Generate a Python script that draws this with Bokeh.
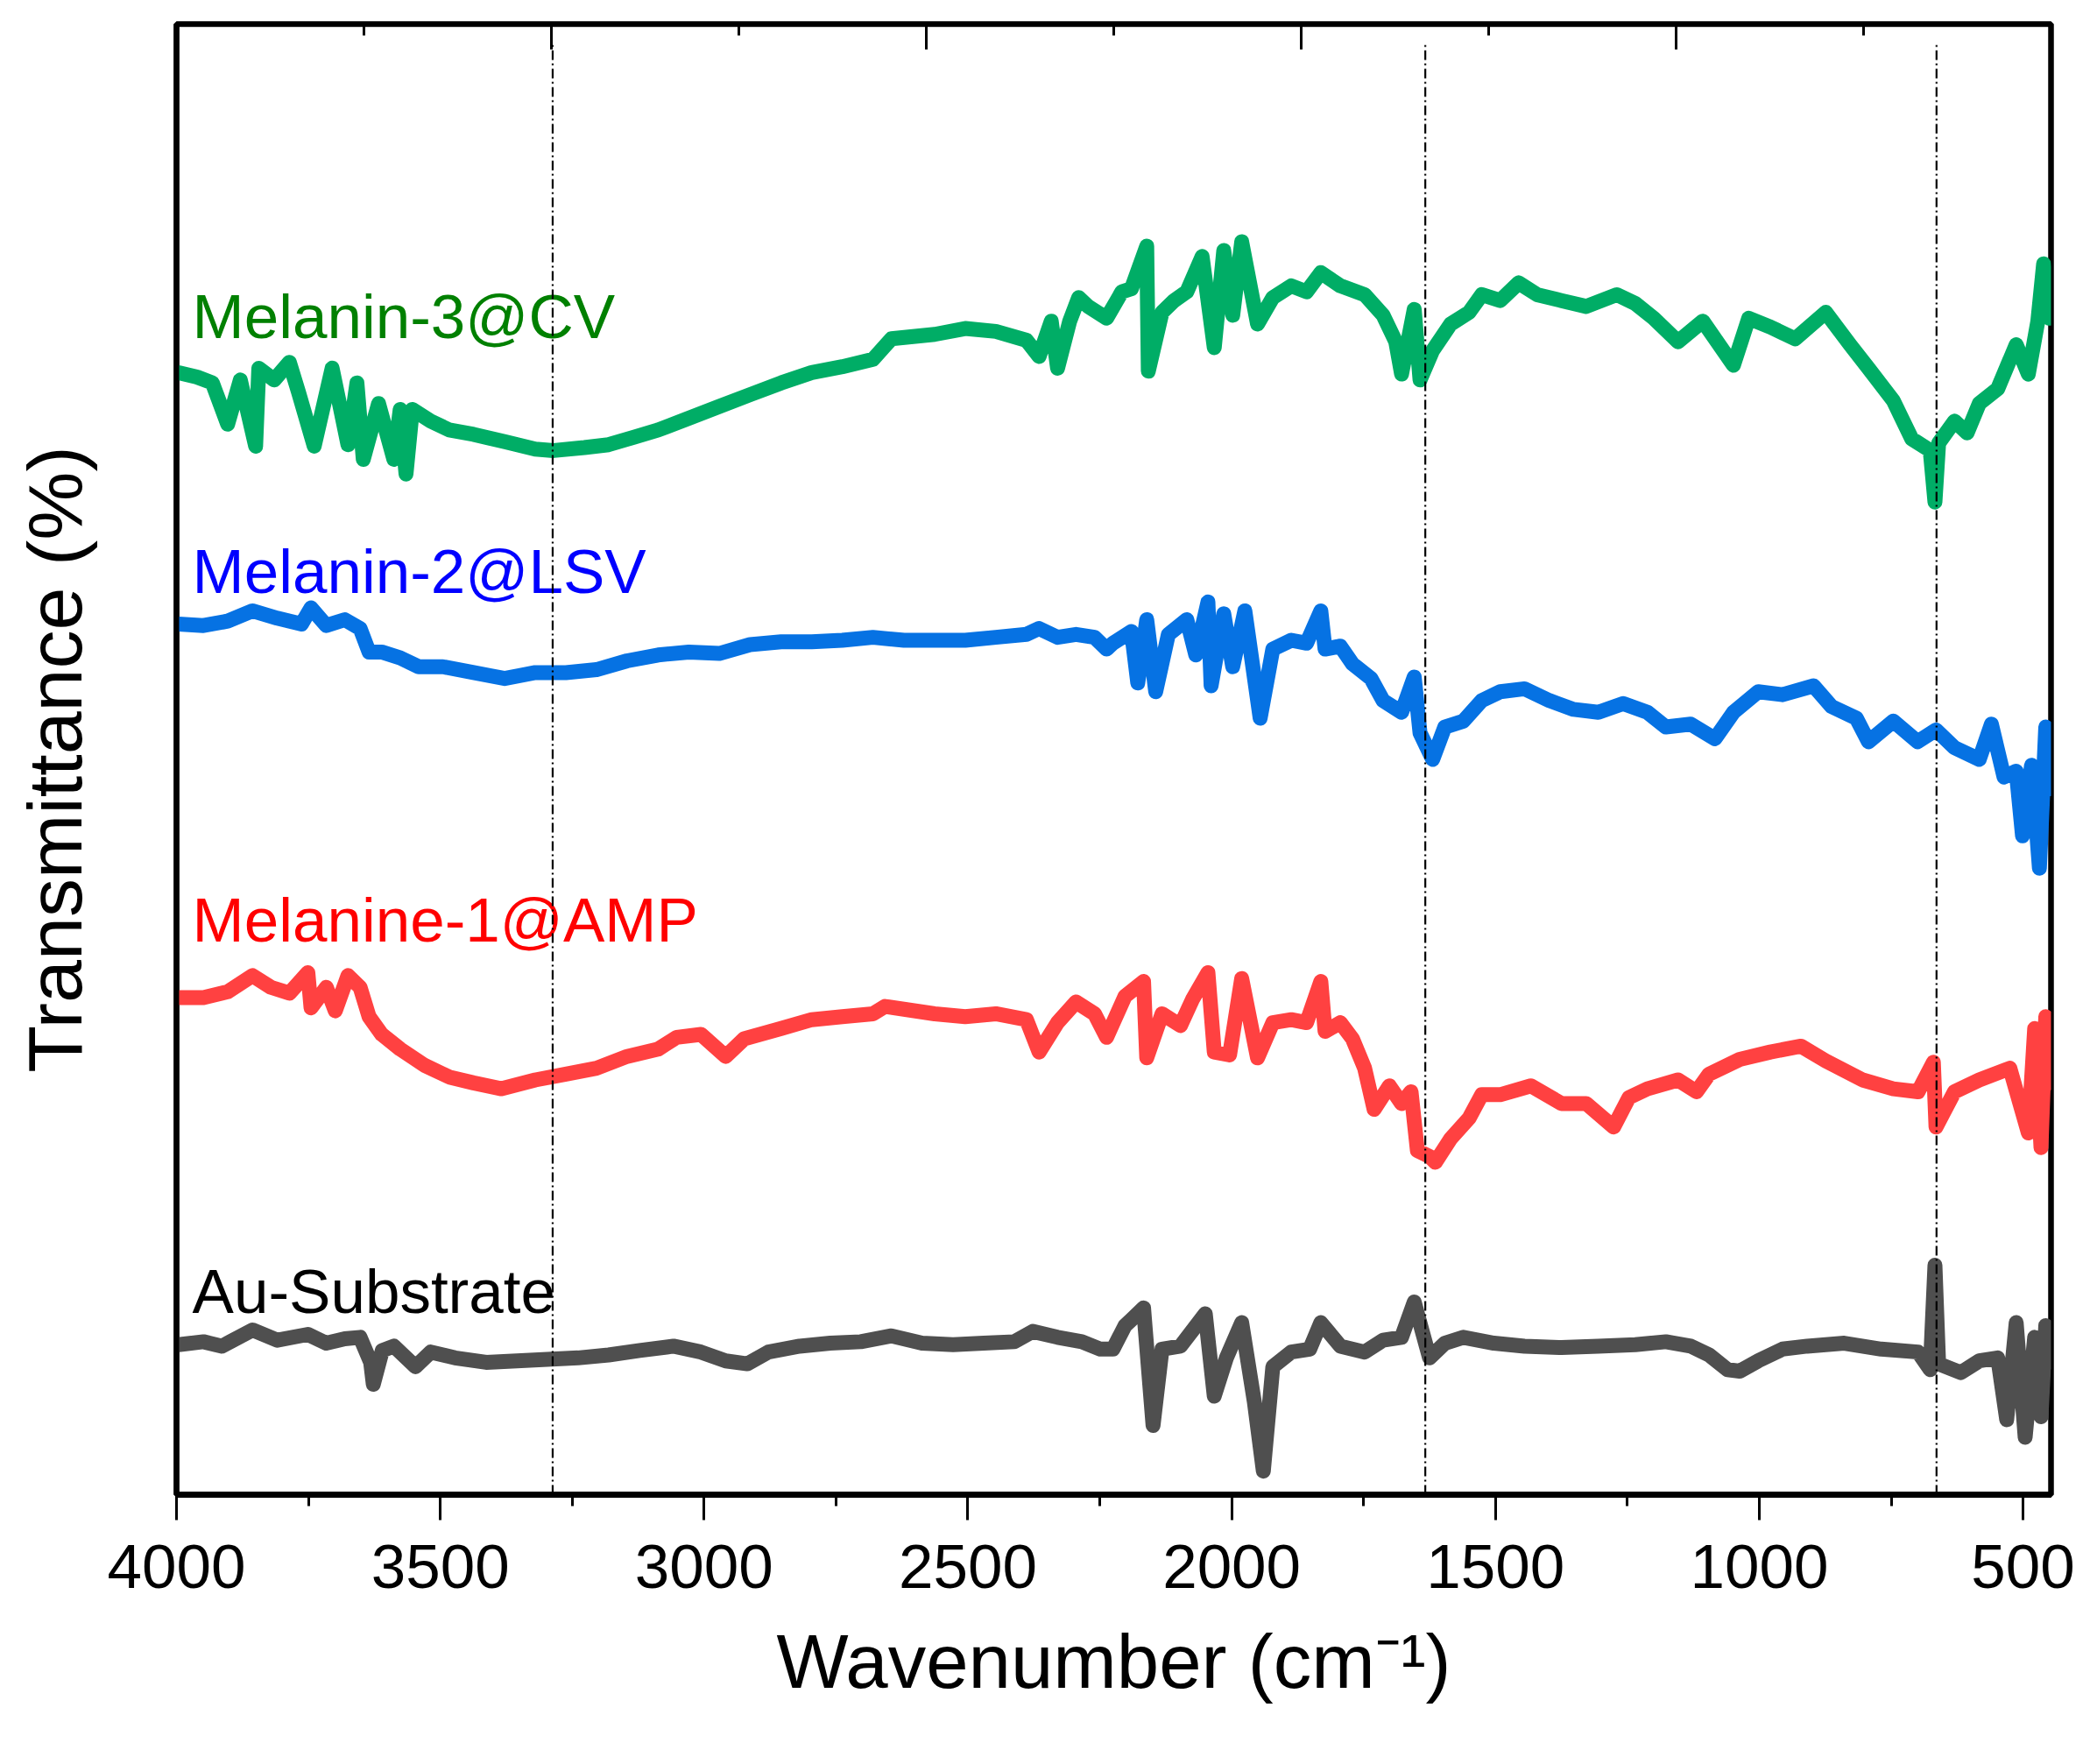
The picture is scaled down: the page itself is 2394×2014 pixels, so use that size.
from bokeh.core.properties import value
from bokeh.embed import file_html
from bokeh.models import (ColumnDataSource, FixedTicker, LinearAxis, Range1d,
                          SingleIntervalTicker)
from bokeh.plotting import figure
from bokeh.resources import INLINE

# FTIR spectra, offset transmittance (arbitrary units)
wn_cv = [3996, 3961, 3932, 3903, 3879, 3850, 3844, 3815, 3786, 3769, 3739, 3705,
         3675, 3658, 3646, 3617, 3588, 3576, 3565, 3553, 3518, 3483, 3437, 3378,
         3320, 3285, 3227, 3181, 3134, 3087, 3029, 2971, 2913, 2854, 2796, 2738,
         2680, 2645, 2563, 2505, 2447, 2389, 2365, 2342, 2330, 2307, 2290, 2272,
         2237, 2208, 2190, 2161, 2158, 2132, 2109, 2085, 2056, 2033, 2015, 1998,
         1981, 1951, 1922, 1887, 1858, 1831, 1794, 1748, 1713, 1689, 1678, 1654,
         1643, 1619, 1585, 1550, 1526, 1491, 1456, 1421, 1375, 1328, 1270, 1235,
         1200, 1154, 1107, 1049, 1020, 979, 932, 874, 828, 793, 746, 711, 676,
         667, 660, 630, 606, 583, 548, 513, 490, 472, 461, 450]
t_cv = [76.3, 76.0, 75.6, 72.8, 75.8, 71.3, 76.6, 75.8, 77.0, 75.0, 71.3, 76.6,
        71.4, 75.6, 70.4, 74.2, 70.4, 73.8, 69.4, 73.8, 73.0, 72.4, 72.1, 71.6,
        71.1, 71.0, 71.2, 71.4, 71.9, 72.4, 73.2, 74.0, 74.8, 75.6, 76.3, 76.7,
        77.2, 78.6, 78.9, 79.3, 79.1, 78.5, 77.4, 79.8, 76.6, 79.8, 81.4, 80.8,
        80.0, 81.8, 82.0, 84.9, 76.4, 80.4, 81.2, 81.8, 84.2, 78.0, 84.6, 80.2,
        85.2, 79.6, 81.4, 82.2, 81.8, 83.1, 82.2, 81.6, 80.2, 78.4, 76.2, 80.6,
        75.8, 77.8, 79.6, 80.4, 81.6, 81.2, 82.4, 81.6, 81.2, 80.8, 81.6, 81.0,
        80.0, 78.4, 79.8, 76.8, 80.0, 79.4, 78.6, 80.4, 78.2, 76.6, 74.4, 71.8, 71.0,
        67.5, 71.5, 73.0, 72.2, 74.2, 75.2, 78.2, 76.2, 79.8, 83.7, 80.0]

wn_lsv = [3996, 3949, 3903, 3856, 3809, 3763, 3745, 3716, 3681, 3652, 3635, 3611,
          3576, 3541, 3495, 3437, 3378, 3320, 3262, 3204, 3146, 3087, 3029, 2971,
          2913, 2854, 2796, 2738, 2680, 2621, 2563, 2505, 2447, 2389, 2365, 2330,
          2295, 2260, 2237, 2225, 2190, 2178, 2161, 2144, 2120, 2085, 2068, 2045,
          2039, 2015, 1998, 1975, 1946, 1922, 1887, 1858, 1831, 1823, 1794, 1771,
          1736, 1713, 1678, 1654, 1643, 1619, 1596, 1561, 1526, 1491, 1445, 1398,
          1352, 1305, 1258, 1212, 1177, 1130, 1084, 1049, 1002, 956, 897, 863, 816,
          793, 746, 700, 665, 630, 583, 560, 536, 513, 501, 484, 469, 457, 450]
t_lsv = [59.2, 59.1, 59.4, 60.1, 59.6, 59.2, 60.3, 59.1, 59.5, 58.9, 57.3, 57.3,
         56.9, 56.3, 56.3, 55.9, 55.5, 55.9, 55.9, 56.1, 56.7, 57.1, 57.3, 57.2,
         57.8, 58.0, 58.0, 58.1, 58.3, 58.1, 58.1, 58.1, 58.3, 58.5, 58.9, 58.3,
         58.5, 58.3, 57.5, 57.9, 58.7, 55.2, 59.5, 54.6, 58.5, 59.5, 57.1, 60.7,
         55.0, 59.9, 56.3, 60.1, 52.8, 57.5, 58.1, 57.9, 60.1, 57.5, 57.7, 56.5,
         55.5, 54.0, 53.2, 55.6, 51.8, 50.0, 52.2, 52.6, 54.0, 54.6, 54.8, 54.0,
         53.4, 53.2, 53.8, 53.2, 52.2, 52.4, 51.4, 53.2, 54.6, 54.4, 55.0, 53.6, 52.8,
         51.2, 52.6, 51.2, 52.0, 50.8, 50.0, 52.4, 48.8, 49.2, 44.8, 49.6, 42.6, 52.2, 48.0]

wn_amp = [3996, 3949, 3903, 3856, 3821, 3786, 3751, 3745, 3716, 3699, 3675, 3652,
          3635, 3611, 3576, 3530, 3483, 3437, 3384, 3320, 3262, 3204, 3146, 3087,
          3052, 3006, 2959, 2924, 2854, 2796, 2738, 2680, 2657, 2563, 2505, 2447,
          2389, 2365, 2330, 2295, 2260, 2237, 2202, 2167, 2161, 2132, 2097, 2074,
          2045, 2033, 2004, 1981, 1951, 1922, 1887, 1858, 1831, 1823, 1794, 1771,
          1748, 1730, 1701, 1678, 1660, 1648, 1625, 1614, 1585, 1550, 1526, 1491,
          1433, 1375, 1328, 1276, 1247, 1212, 1154, 1119, 1095, 1037, 979, 921, 874,
          804, 746, 699, 670, 665, 630, 583, 525, 490, 478, 466, 457, 450]
t_amp = [33.8, 33.8, 34.2, 35.3, 34.5, 34.1, 35.5, 33.1, 34.5, 32.9, 35.3, 34.5,
         32.5, 31.3, 30.3, 29.2, 28.4, 28.0, 27.6, 28.2, 28.6, 29.0, 29.8, 30.3,
         31.1, 31.3, 29.8, 31.0, 31.7, 32.3, 32.5, 32.7, 33.2, 32.7, 32.5, 32.7,
         32.3, 30.1, 32.1, 33.5, 32.7, 31.1, 33.9, 34.9, 29.7, 32.7, 31.9, 33.7,
         35.5, 30.1, 29.9, 35.1, 29.7, 32.1, 32.3, 32.1, 34.9, 31.5, 32.1, 31.0,
         29.0, 26.2, 27.8, 26.6, 27.4, 23.4, 23.0, 22.6, 24.2, 25.6, 27.2, 27.2,
         27.8, 26.6, 26.6, 25.0, 27.0, 27.6, 28.2, 27.4, 28.6, 29.6, 30.1, 30.5, 29.5,
         28.2, 27.6, 27.4, 29.4, 25.0, 27.4, 28.2, 29.0, 24.6, 31.7, 23.6, 32.5, 28.0]

wn_au = [3996, 3949, 3914, 3856, 3809, 3751, 3716, 3681, 3652, 3632, 3627, 3610,
         3588, 3547, 3518, 3472, 3413, 3355, 3297, 3239, 3181, 3122, 3058, 3006,
         2959, 2918, 2878, 2819, 2761, 2703, 2645, 2587, 2528, 2470, 2412, 2377,
         2330, 2284, 2249, 2225, 2202, 2190, 2167, 2149, 2132, 2097, 2050, 2033,
         2010, 1981, 1957, 1940, 1922, 1887, 1852, 1831, 1794, 1748, 1713, 1678,
         1654, 1625, 1596, 1561, 1503, 1445, 1375, 1305, 1235, 1177, 1130, 1095,
         1060, 1037, 1002, 956, 909, 839, 769, 699, 676, 667, 660, 618, 583, 548,
         531, 513, 496, 478, 466, 457, 450]
t_au = [10.2, 10.4, 10.1, 11.2, 10.5, 10.9, 10.3, 10.6, 10.7, 9.0, 7.5, 9.8,
        10.1, 8.7, 9.7, 9.3, 9.0, 9.1, 9.2, 9.3, 9.5, 9.8, 10.1, 9.7,
        9.1, 8.9, 9.7, 10.1, 10.3, 10.4, 10.8, 10.3, 10.2, 10.3, 10.4, 11.1,
        10.7, 10.4, 9.9, 9.9, 11.5, 11.9, 12.7, 4.7, 9.9, 10.1, 12.3, 6.7,
        9.3, 11.7, 6.3, 1.6, 8.7, 9.7, 9.9, 11.7, 10.1, 9.7, 10.5, 10.7,
        13.1, 9.3, 10.3, 10.7, 10.3, 10.1, 10.0, 10.1, 10.2, 10.4, 10.1, 9.5,
        8.5, 8.4, 9.1, 9.9, 10.1, 10.3, 9.9, 9.7, 8.5, 15.6, 8.9, 8.3, 9.1, 9.3,
        5.1, 11.7, 3.9, 10.7, 5.3, 11.5, 9.0]

names = ["Melanin-3@CV", "Melanin-2@LSV", "Melanine-1@AMP", "Au-Substrate"]
line_colors = ["#00AD66", "#0672E3", "#FF4141", "#4F4F4F"]
label_colors = ["#008000", "#0000FF", "#FF0000", "#000000"]
label_y = [80.1, 62.8, 39.1, 13.8]
label_x = 3970

marked_peaks = [3287, 1633, 664]

X_START, X_END = 4000, 447
Y_MIN, Y_MAX = 0, 100
FONT = "Liberation Sans"

p = figure(frame_width=2140, frame_height=1679,
           min_border_left=201, min_border_top=27,
           min_border_right=44, min_border_bottom=296,
           x_range=Range1d(X_START, X_END), y_range=Range1d(Y_MIN, Y_MAX),
           output_backend="svg", toolbar_location=None,
           background_fill_color="white", border_fill_color="white")
p.grid.visible = False
p.outline_line_color = "black"
p.outline_line_width = 6.5

series = [(wn_cv, t_cv), (wn_lsv, t_lsv), (wn_amp, t_amp), (wn_au, t_au)]
for (wn, t), col in zip(series, line_colors):
    p.line(wn, t, line_color=col, line_width=17, line_join="round",
           line_cap="round")

src = ColumnDataSource(dict(x=[label_x] * 4, y=label_y, text=names,
                            color=label_colors))
p.text(x="x", y="y", text="text", text_color="color", source=src,
       text_font=value(FONT), text_font_size="71px",
       text_baseline="alphabetic", text_align="left")

p.segment(x0=marked_peaks, y0=[Y_MIN] * 3, x1=marked_peaks, y1=[98.6] * 3,
          line_color="black", line_width=2.2, line_dash="11 4 2 4")

# bottom axis
xa = p.xaxis[0]
xa.ticker = SingleIntervalTicker(interval=500, num_minor_ticks=2)
xa.axis_label = "Wavenumber (cm\u207b\u00b9)"
xa.axis_line_width = 7
xa.major_tick_in = 0
xa.major_tick_out = 29
xa.minor_tick_in = 0
xa.minor_tick_out = 13
xa.major_tick_line_width = 3
xa.minor_tick_line_width = 3
xa.major_label_text_font = FONT
xa.major_label_text_font_size = "71px"
xa.major_label_text_color = "black"
xa.major_label_standoff = 28
xa.axis_label_text_font = FONT
xa.axis_label_text_font_size = "87px"
xa.axis_label_text_font_style = "normal"
xa.axis_label_text_color = "black"
xa.axis_label_standoff = 32

# top edge: unlabelled ticks pointing down into the frame, splitting it in
# fifths (minor: tenths); an axis pinned at the top of the y range
span = X_END - X_START
top_major = [X_START + span * k / 5 for k in range(1, 5)]
top_minor = [X_START + span * (k + 0.5) / 5 for k in range(5)]
ta = LinearAxis(fixed_location=Y_MAX,
                ticker=FixedTicker(ticks=top_major, minor_ticks=top_minor))
ta.axis_line_color = None
ta.major_tick_in = 0
ta.major_tick_out = 29
ta.minor_tick_in = 0
ta.minor_tick_out = 13
ta.major_tick_line_width = 3
ta.minor_tick_line_width = 3
ta.major_tick_line_color = "black"
ta.minor_tick_line_color = "black"
ta.major_label_text_font_size = "1px"
ta.major_label_text_color = None
ta.major_label_standoff = 0
p.add_layout(ta, "below")

# left axis: label only, no ticks
ya = p.yaxis[0]
ya.ticker = FixedTicker(ticks=[])
ya.axis_label = "Transmittance (%)"
ya.axis_line_width = 6
ya.major_tick_out = 0
ya.minor_tick_out = 0
ya.major_tick_in = 0
ya.minor_tick_in = 0
ya.major_label_standoff = 0
ya.axis_label_text_font = FONT
ya.axis_label_text_font_size = "88px"
ya.axis_label_text_font_style = "normal"
ya.axis_label_text_color = "black"
ya.axis_label_standoff = 90

open("out.html", "w").write(file_html(p, INLINE))
